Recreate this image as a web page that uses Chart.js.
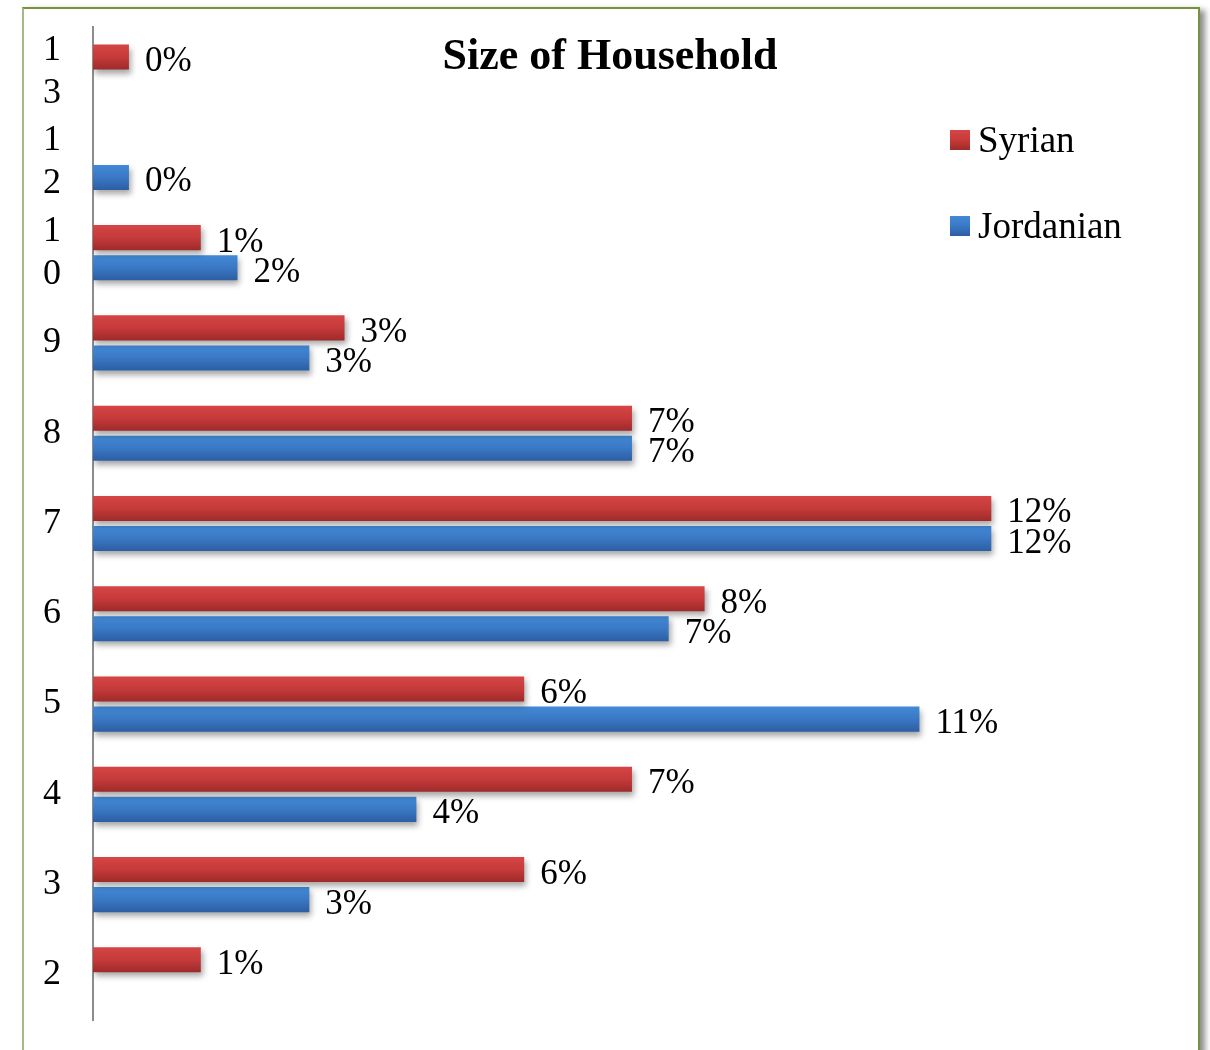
<!DOCTYPE html>
<html><head><meta charset="utf-8">
<script src="https://cdn.jsdelivr.net/npm/chart.js@4/dist/chart.umd.min.js"></script>
<style>
html,body{margin:0;padding:0;background:#fff;width:1210px;height:1050px;overflow:hidden;}
#frame{position:absolute;left:22px;top:7px;width:1174px;height:1100px;border-top:2px solid #77913f;border-right:2px solid #77913f;border-left:2px solid #a3bb82;box-shadow:5px 3px 6px rgba(0,0,0,0.45);background:#fff;}
#wrap{position:absolute;left:0;top:0;width:1210px;height:1050px;}
</style></head>
<body><div id="frame"></div><div id="wrap"><canvas id="c" width="1210" height="1050"></canvas></div>
<script>
const categories = ['13','12','10','9','8','7','6','5','4','3','2'];
const tickLabels = [['1','3'],['1','2'],['1','0'],'9','8','7','6','5','4','3','2'];
const seriesNames = ['Syrian','Jordanian'];
const syrianValues = [0.48, null, 1.44, 3.36, 7.2, 12.0, 8.17, 5.76, 7.2, 5.76, 1.44];
const jordanianValues = [null, 0.48, 1.93, 2.89, 7.2, 12.0, 7.69, 11.04, 4.32, 2.89, null];
const syrianLabels = ['0%', '', '1%', '3%', '7%', '12%', '8%', '6%', '7%', '6%', '1%'];
const jordanianLabels = ['', '0%', '2%', '3%', '7%', '12%', '7%', '11%', '4%', '3%', ''];
const titleText = 'Size of Household';
const xMin = 0, xMax = 14;

const gradStops = [
  ['#d64545', '#c53a3a', '#9e2a2a'],
  ['#4289d6', '#3a78c4', '#2c5ea3']
];
function makeGrad(ctx, di, top, bottom) {
  const g = ctx.createLinearGradient(0, top, 0, bottom);
  g.addColorStop(0, gradStops[di][0]);
  g.addColorStop(0.5, gradStops[di][1]);
  g.addColorStop(1, gradStops[di][2]);
  return g;
}

const decoPlugin = {
  id: 'deco',
  beforeDatasetsDraw(chart) {
    const ctx = chart.ctx;
    chart.data.datasets.forEach((ds, di) => {
      const meta = chart.getDatasetMeta(di);
      meta.data.forEach((bar) => {
        if (!bar || !isFinite(bar.y) || !isFinite(bar.height)) return;
        const g = makeGrad(ctx, di, bar.y - bar.height / 2, bar.y + bar.height / 2);
        try { bar.options.backgroundColor = g; } catch (e) {}
      });
    });
    ctx.save();
    ctx.shadowColor = 'rgba(0,0,0,0.35)';
    ctx.shadowBlur = 6;
    ctx.shadowOffsetX = 2;
    ctx.shadowOffsetY = 4;
  },
  afterDatasetsDraw(chart) {
    const ctx = chart.ctx;
    ctx.restore();
    ctx.save();
    ctx.font = '35px "Liberation Serif"';
    ctx.fillStyle = '#000';
    ctx.textAlign = 'left';
    ctx.textBaseline = 'alphabetic';
    chart.data.datasets.forEach((ds, di) => {
      const meta = chart.getDatasetMeta(di);
      meta.data.forEach((bar, i) => {
        const t = ds.valueLabels[i];
        if (!t || !isFinite(bar.x)) return;
        ctx.fillText(t, bar.x + 16, bar.y + 14);
      });
    });
    ctx.restore();
  },
  afterDraw(chart) {
    const ctx = chart.ctx;
    ctx.save();
    ctx.font = 'bold 44px "Liberation Serif"';
    ctx.fillStyle = '#000';
    ctx.textAlign = 'center';
    ctx.textBaseline = 'alphabetic';
    ctx.fillText(titleText, 610, 69);
    const legX = 950, legY = [140, 226], sz = 20;
    ctx.font = '37px "Liberation Serif"';
    ctx.textAlign = 'left';
    chart.data.datasets.forEach((ds, di) => {
      const cy = legY[di];
      ctx.fillStyle = makeGrad(ctx, di, cy - sz / 2, cy + sz / 2);
      ctx.fillRect(legX, cy - sz / 2, sz, sz);
      ctx.fillStyle = '#000';
      ctx.fillText(ds.label, legX + 28, cy + 12);
    });
    ctx.restore();
  }
};

new Chart(document.getElementById('c'), {
  type: 'bar',
  data: {
    labels: tickLabels,
    datasets: [
      { label: seriesNames[0], data: syrianValues, valueLabels: syrianLabels,
        backgroundColor: () => gradStops[0][1], borderWidth: 0,
        categoryPercentage: 0.667, barPercentage: 0.833 },
      { label: seriesNames[1], data: jordanianValues, valueLabels: jordanianLabels,
        backgroundColor: () => gradStops[1][1], borderWidth: 0,
        categoryPercentage: 0.667, barPercentage: 0.833 }
    ]
  },
  options: {
    indexAxis: 'y',
    responsive: false,
    animation: false,
    devicePixelRatio: 1,
    layout: { padding: { left: 0, top: 27, right: 69, bottom: 30 } },
    scales: {
      x: { display: false, min: xMin, max: xMax },
      y: {
        grid: { display: false },
        border: { display: true, color: '#8c8c8c', width: 2 },
        ticks: {
          autoSkip: false,
          color: '#000',
          font: { family: 'Liberation Serif', size: 36, lineHeight: 1.2 },
          crossAlign: 'center',
          padding: 24
        },
        afterFit(scale) { scale.width = 93; scale.paddingTop = 0; scale.paddingBottom = 0; }
      }
    },
    plugins: {
      legend: { display: false },
      title: { display: false },
      tooltip: { enabled: false }
    }
  },
  plugins: [decoPlugin]
});
</script>
</body></html>
